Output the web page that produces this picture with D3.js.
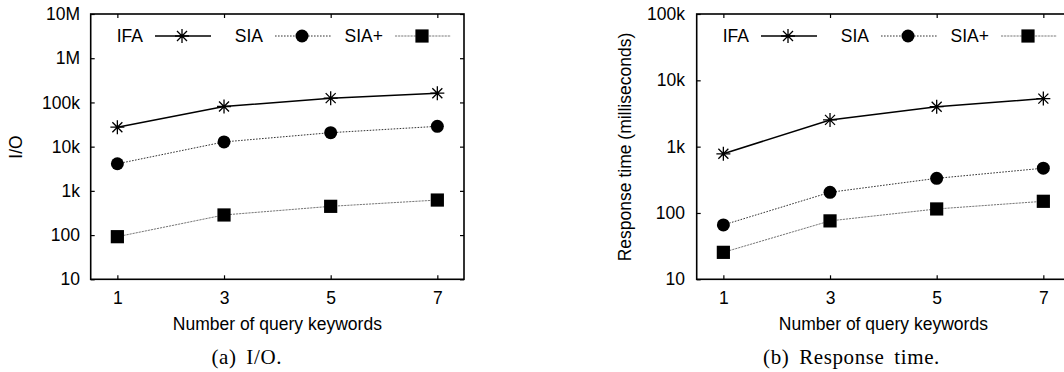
<!DOCTYPE html>
<html>
<head>
<meta charset="utf-8">
<script src="https://cdn.jsdelivr.net/npm/d3@7"></script>
<style>
  body { margin: 0; background: #fff; overflow: hidden; }
  svg { display: block; }
  .tick text, .lab { font-family: "Liberation Sans", Arial, sans-serif; font-size: 17.5px; fill: #000; }
  .cap { font-family: "Liberation Serif", "Times New Roman", serif; font-size: 21px; fill: #000; letter-spacing: 0.6px; word-spacing: 4px; }
</style>
</head>
<body>
<div class="chart"></div>
<script>
// x values (number of query keywords)
const keywords = [1, 3, 5, 7];

// (a) I/O
const ioIFA = [27500, 81000, 125000, 162000];
const ioSIA = [4100, 12800, 20700, 28800];
const ioSIAplus = [92, 285, 447, 620];
const ioTicks = [10, 100, 1e3, 1e4, 1e5, 1e6, 1e7];
const ioTickLabels = ["10", "100", "1k", "10k", "100k", "1M", "10M"];

// (b) response time in ms
const timeIFA = [780, 2530, 4000, 5300];
const timeSIA = [66, 205, 333, 473];
const timeSIAplus = [25.5, 76, 115, 150];
const timeTicks = [10, 100, 1e3, 1e4, 1e5];
const timeTickLabels = ["10", "100", "1k", "10k", "100k"];

const seriesNames = ["IFA", "SIA", "SIA+"];

let svg = d3.select(".chart").append("svg")
    .attr("width", 1064)
    .attr("height", 372);

let styles = [
    { stroke: "#000", width: 1.5, dash: null, marker: "star" },
    { stroke: "#333", width: 1, dash: "1.6,1.4", marker: "circle" },
    { stroke: "#777", width: 1, dash: "2.2,0.9", marker: "square" }
];

function drawMarker(g, type, x, y) {
    if (type === "star") {
        g.append("path")
            .attr("d", "M0,-7V7M-7,0H7M-5,-5L5,5M-5,5L5,-5")
            .attr("transform", "translate(" + x + "," + y + ")")
            .attr("fill", "none")
            .attr("stroke", "#000")
            .attr("stroke-width", 1.3);
    } else if (type === "circle") {
        g.append("circle").attr("cx", x).attr("cy", y).attr("r", 6.5).attr("fill", "#000");
    } else {
        g.append("rect").attr("x", x - 6.6).attr("y", y - 6.6)
            .attr("width", 13.2).attr("height", 13.2).attr("fill", "#000");
    }
}

function panel(opt) {
    let left = opt.left, top = 14, width = 373.3, height = 265.3;

    let g = svg.append("g").attr("transform", "translate(" + left + "," + top + ")");

    let x = d3.scaleLinear().domain([0.5, 7.5]).range([0, width]);
    let y = d3.scaleLog().domain([opt.ticks[0], opt.ticks[opt.ticks.length - 1]]).range([height, 0]);

    let yAxis = d3.axisLeft(y).tickValues(opt.ticks)
        .tickFormat((d, i) => opt.labels[i])
        .tickSize(-4).tickSizeOuter(0).tickPadding(opt.pad);
    let yAxisR = d3.axisRight(y).tickValues(opt.ticks).tickFormat("").tickSize(-4).tickSizeOuter(0);
    let xAxis = d3.axisBottom(x).tickValues(keywords).tickFormat(d3.format("d"))
        .tickSize(-4).tickSizeOuter(0).tickPadding(12);
    let xAxisT = d3.axisTop(x).tickValues(keywords).tickFormat("").tickSize(-4).tickSizeOuter(0);

    g.append("g").call(yAxis);
    g.append("g").attr("transform", "translate(" + width + ",0)").call(yAxisR);
    g.append("g").attr("transform", "translate(0," + height + ")").call(xAxis);
    g.append("g").call(xAxisT);
    g.selectAll(".domain").remove();
    g.selectAll(".tick line").attr("stroke", "#000").attr("stroke-width", 1.2);
    g.selectAll(".tick text").style("font-family", "'Liberation Sans', Arial, sans-serif").style("font-size", "17.5px");

    g.append("rect")
        .attr("width", width).attr("height", height)
        .attr("fill", "none").attr("stroke", "#000").attr("stroke-width", 1.6);

    // series
    opt.series.forEach((vals, si) => {
        let st = styles[si];
        let line = d3.line().x((d, i) => x(keywords[i])).y(d => y(d));
        g.append("path")
            .datum(vals)
            .attr("d", line)
            .attr("fill", "none")
            .attr("stroke", st.stroke)
            .attr("stroke-width", st.width)
            .attr("stroke-dasharray", st.dash);
        vals.forEach((v, i) => drawMarker(g, st.marker, x(keywords[i]), y(v)));
    });

    // legend
    seriesNames.forEach((name, si) => {
        let st = styles[si];
        let tx = 52.3 + si * 120, ly = 22;
        g.append("text").attr("class", "lab")
            .attr("x", tx).attr("y", ly).attr("dy", "0.36em")
            .attr("text-anchor", "end").text(name);
        g.append("line")
            .attr("x1", tx + 12).attr("x2", tx + 68)
            .attr("y1", ly).attr("y2", ly)
            .attr("stroke", st.stroke).attr("stroke-width", st.width)
            .attr("stroke-dasharray", st.dash);
        drawMarker(g, st.marker, tx + 39, ly);
    });

    // axis titles
    svg.append("text").attr("class", "lab")
        .attr("x", left + width / 2).attr("y", 330)
        .attr("text-anchor", "middle").text("Number of query keywords");
    svg.append("text").attr("class", "lab")
        .attr("transform", "translate(" + opt.ytx + ",147) rotate(-90)")
        .attr("dy", "0.36em")
        .attr("text-anchor", "middle").text(opt.ytitle);

    svg.append("text").attr("class", "cap")
        .attr("x", opt.capX).attr("y", 364)
        .attr("text-anchor", "middle")
        .text(opt.caption);
}

panel({
    left: 90.7, ticks: ioTicks, labels: ioTickLabels, pad: 10.7,
    series: [ioIFA, ioSIA, ioSIAplus],
    ytitle: "I/O", ytx: 15.8,
    caption: "(a) I/O.", capX: 246.7
});

panel({
    left: 696.7, ticks: timeTicks, labels: timeTickLabels, pad: 11.7,
    series: [timeIFA, timeSIA, timeSIAplus],
    ytitle: "Response time (milliseconds)", ytx: 624.3,
    caption: "(b) Response time.", capX: 851.5
});
</script>
</body>
</html>
